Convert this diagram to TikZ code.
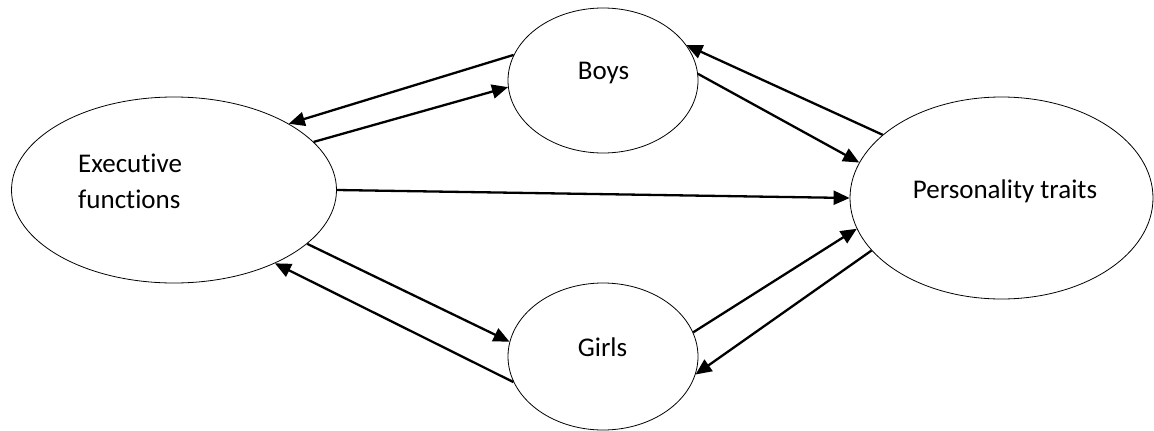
\documentclass[tikz,border=0pt]{standalone}
\usepackage{fontspec}
\setmainfont{Carlito}[Ligatures=CommonOff]
\usepackage{tikz}
\usetikzlibrary{arrows.meta,shapes.geometric}

\begin{document}
\begin{tikzpicture}[
    x=1pt, y=-1pt,
    blob/.style={draw, ellipse, line width=0.8pt, inner sep=0pt},
    txt/.style={font=\fontsize{27}{36}\selectfont, inner sep=0pt},
    link/.style={line width=2.3pt, -{Triangle[length=16pt,width=14pt]}},
  ]
\useasboundingbox (0,0) rectangle (1154,431);
% the four ellipses
\node[blob, minimum width=325pt, minimum height=186pt] (ef) at (174,190) {};
\node[blob, minimum width=190pt, minimum height=145pt] (boys) at (603,80.5) {};
\node[blob, minimum width=190pt, minimum height=147pt] (girls) at (603,356.5) {};
\node[blob, minimum width=303pt, minimum height=202pt] (pt) at (1001.5,198) {};
% their texts
\node[txt, align=left, anchor=base west] (ef-txt) at (78,208) {Executive\\functions};
\node[txt, anchor=base] (boys-txt) at (603.5,79) {Boys};
\node[txt, anchor=base] (girls-txt) at (602.5,356) {Girls};
\node[txt, anchor=base] (pt-txt) at (1005,198) {Personality traits};
% connectors
\draw[link] (boys.164) -- (ef.30);
\draw[link] (ef.19) -- (boys.184);
\draw[link] (ef.-22) -- (girls.171);
\draw[link] (girls.196) -- (ef.-36);
\draw[link] (ef.0) -- (pt.180);
\draw[link] (boys.4) -- (pt.166);
\draw[link] (pt.152) -- (boys.23);
\draw[link] (girls.15) -- (pt.192);
\draw[link] (pt.202) -- (girls.-11);
\end{tikzpicture}
\end{document}
